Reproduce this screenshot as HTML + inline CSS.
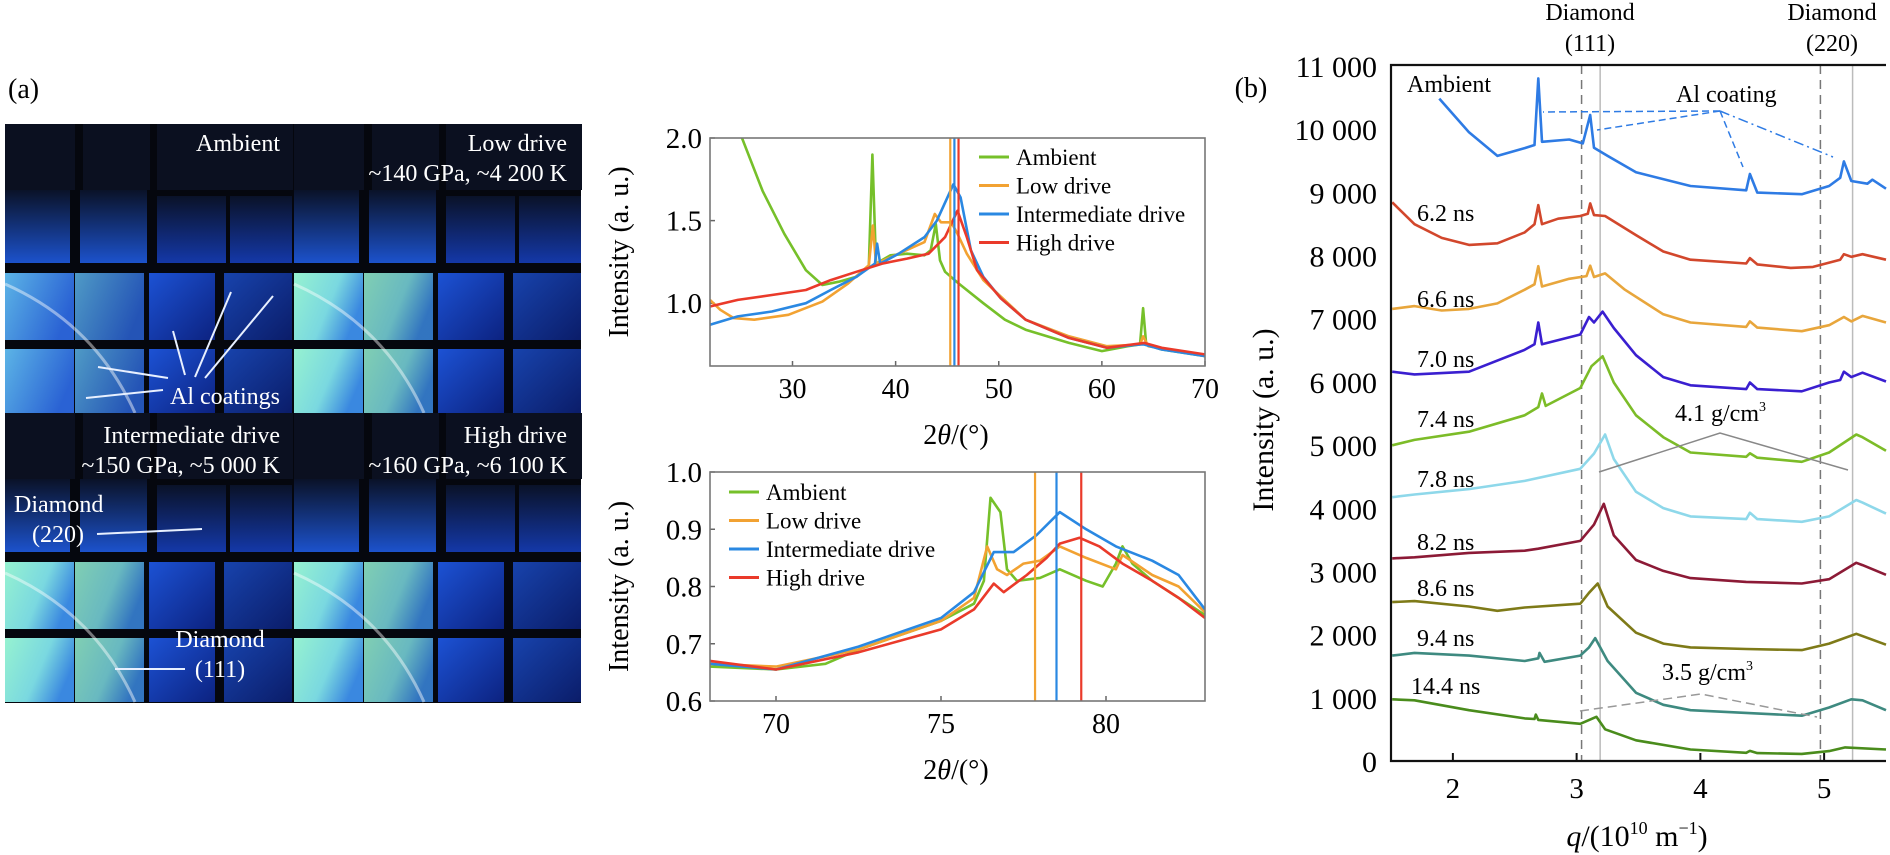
<!DOCTYPE html>
<html><head><meta charset="utf-8"><style>
html,body{margin:0;padding:0;background:#fff;}
svg{display:block;font-family:"Liberation Serif",serif;}
</style></head><body>
<svg id="fig" width="1890" height="855" viewBox="0 0 1890 855" xmlns="http://www.w3.org/2000/svg">
<defs>
<linearGradient id="gDarkTop" x1="0" y1="0" x2="0" y2="1"><stop offset="0" stop-color="#0a1228"/><stop offset="1" stop-color="#1c52cc"/></linearGradient>
<linearGradient id="gDarkTop2" x1="0" y1="0" x2="0" y2="1"><stop offset="0" stop-color="#0a1228"/><stop offset="1" stop-color="#1438a8"/></linearGradient>
<linearGradient id="gLightA" x1="0" y1="0" x2="1" y2="0.4"><stop offset="0" stop-color="#5cb4e6"/><stop offset="1" stop-color="#2a62d4"/></linearGradient>
<linearGradient id="gMint" x1="0" y1="0" x2="1" y2="0.4"><stop offset="0" stop-color="#96f2d0"/><stop offset="0.6" stop-color="#7ad8e0"/><stop offset="1" stop-color="#3a88e0"/></linearGradient>
<linearGradient id="gBlue" x1="0" y1="0" x2="1" y2="1"><stop offset="0" stop-color="#1c52d4"/><stop offset="1" stop-color="#0c2280"/></linearGradient>
</defs>
<g id="panelA"></g>
<g id="chartTop"></g>
<g id="chartBot"></g>
<g id="chartB"></g>
</svg>
<script>
// ---------- data: middle top chart (2theta, intensity) ----------
const topAmbient = [[25.1,2.0],[27.1,1.68],[29.2,1.42],[31.3,1.2],[32.9,1.11],[34.5,1.13],[36.2,1.16],[37.4,1.22],[37.75,1.9],[38.1,1.24],[39.5,1.29],[41.1,1.3],[42.8,1.29],[43.4,1.32],[43.9,1.48],[44.3,1.26],[44.8,1.19],[46.1,1.12],[48.5,1.0],[50.6,0.9],[52.6,0.84],[56.8,0.76],[60.0,0.71],[62.5,0.74],[63.7,0.75],[64.0,0.97],[64.3,0.75],[65.8,0.72],[70,0.68]];
const topLow = [[22,1.02],[23,0.96],[24.3,0.91],[26.3,0.9],[29.6,0.93],[32.9,1.01],[35.4,1.12],[37.4,1.23],[37.8,1.47],[38.1,1.24],[40.3,1.3],[42.8,1.37],[43.8,1.54],[44.4,1.49],[45.4,1.49],[46.0,1.42],[46.9,1.3],[48.5,1.14],[50.2,1.04],[52.6,0.9],[56.8,0.8],[60.5,0.74],[63.7,0.75],[64.0,0.8],[64.5,0.74],[70,0.68]];
const topInter = [[22,0.87],[24.7,0.92],[28,0.95],[31.3,1.0],[33.7,1.08],[36.2,1.16],[38.0,1.24],[38.2,1.36],[38.5,1.24],[40.3,1.3],[42.8,1.4],[44.0,1.5],[45.6,1.72],[46.3,1.64],[47.3,1.32],[48.5,1.16],[50.2,1.03],[52.6,0.9],[56.8,0.79],[60.5,0.73],[63.7,0.75],[64.1,0.75],[65.8,0.72],[70,0.68]];
const topHigh = [[22,0.98],[24.7,1.02],[28,1.05],[31.3,1.08],[33.7,1.14],[36.2,1.19],[38.7,1.24],[41.1,1.27],[43.2,1.3],[44.8,1.4],[46.0,1.56],[46.9,1.4],[47.9,1.2],[50.2,1.03],[52.6,0.9],[56.8,0.79],[60.5,0.73],[64.1,0.76],[65.8,0.73],[70,0.69]];
const topMarkers = [45.3, 45.7, 46.1];
const topXTicks = [30, 40, 50, 60, 70];
const topYTicks = [1.0, 1.5, 2.0];
// ---------- data: middle bottom chart ----------
const botAmbient = [[68,0.66],[70,0.655],[71.5,0.665],[72.5,0.69],[73.5,0.71],[75,0.74],[76,0.77],[76.3,0.81],[76.5,0.955],[76.8,0.93],[77.0,0.83],[77.3,0.81],[78,0.815],[78.6,0.83],[79.4,0.81],[79.9,0.8],[80.3,0.84],[80.5,0.87],[80.8,0.84],[81.4,0.81],[82.2,0.78],[83,0.75]];
const botLow = [[68,0.665],[70,0.66],[72.5,0.69],[75,0.74],[76,0.78],[76.4,0.87],[76.7,0.83],[77.0,0.82],[77.5,0.84],[78.0,0.845],[78.6,0.87],[79.4,0.85],[80.3,0.83],[80.5,0.855],[81.4,0.82],[82.2,0.8],[83,0.755]];
const botInter = [[68,0.665],[70,0.655],[72.5,0.695],[75,0.745],[76,0.79],[76.6,0.86],[77.2,0.86],[77.9,0.89],[78.6,0.93],[79.4,0.9],[80.3,0.87],[81.4,0.845],[82.2,0.82],[83,0.76]];
const botHigh = [[68,0.67],[70,0.655],[72.5,0.685],[75,0.725],[76,0.76],[76.6,0.805],[76.9,0.79],[77.6,0.82],[78.2,0.85],[78.6,0.875],[79.2,0.885],[79.8,0.87],[80.5,0.84],[81.4,0.81],[82.2,0.78],[83,0.745]];
const botMarkers = [77.85, 78.5, 79.25];
const botXTicks = [70, 75, 80];
const botYTicks = [0.6, 0.7, 0.8, 0.9, 1.0];
const seriesNames = ["Ambient", "Low drive", "Intermediate drive", "High drive"];
// ---------- data: right chart (q, intensity) ----------
const bAmbient = [[1.89,10484],[2.13,9950],[2.36,9577],[2.58,9700],[2.66,9749],[2.69,10804],[2.72,9800],[2.94,9836],[3.05,9775],[3.11,10225],[3.14,9706],[3.25,9577],[3.48,9317],[3.92,9101],[4.37,9032],[4.40,9291],[4.46,8997],[4.82,8971],[5.04,9101],[5.13,9231],[5.16,9490],[5.22,9180],[5.35,9137],[5.39,9200],[5.5,9058]];
const b62 = [[1.51,8842],[1.69,8496],[1.91,8280],[2.13,8168],[2.36,8194],[2.58,8367],[2.66,8496],[2.69,8799],[2.72,8496],[2.85,8583],[3.03,8626],[3.09,8660],[3.11,8825],[3.14,8640],[3.23,8626],[3.48,8323],[3.70,8064],[3.92,7934],[4.37,7874],[4.40,7960],[4.46,7860],[4.73,7805],[4.91,7820],[5.13,7934],[5.16,8021],[5.22,7980],[5.31,8021],[5.5,7934]];
const b66 = [[1.51,7156],[1.69,7200],[1.91,7130],[2.13,7156],[2.36,7243],[2.58,7459],[2.66,7545],[2.69,7831],[2.72,7510],[2.94,7632],[3.08,7675],[3.11,7839],[3.14,7660],[3.23,7718],[3.39,7459],[3.70,7070],[3.92,6940],[4.37,6871],[4.40,6958],[4.46,6860],[4.82,6802],[5.04,6897],[5.16,7027],[5.22,6958],[5.31,7044],[5.5,6940]];
const b70 = [[1.51,6162],[1.69,6119],[2.13,6162],[2.58,6508],[2.66,6595],[2.69,6940],[2.72,6595],[3.03,6750],[3.10,7027],[3.14,6940],[3.21,7113],[3.30,6854],[3.48,6422],[3.70,6076],[3.92,5946],[4.37,5886],[4.40,5990],[4.46,5886],[4.82,5851],[5.04,5990],[5.13,6030],[5.16,6162],[5.22,6076],[5.31,6145],[5.5,6007]];
const b74 = [[1.51,4996],[1.69,5082],[2.13,5212],[2.58,5471],[2.69,5601],[2.72,5817],[2.75,5620],[3.03,5903],[3.12,6249],[3.21,6405],[3.30,5990],[3.48,5471],[3.70,5125],[3.92,4883],[4.37,4814],[4.40,4870],[4.46,4800],[4.82,4736],[5.04,4883],[5.26,5168],[5.31,5125],[5.5,4909]];
const b78 = [[1.51,4175],[1.69,4218],[2.13,4304],[2.58,4434],[3.03,4624],[3.14,4866],[3.23,5168],[3.30,4780],[3.48,4261],[3.70,4002],[3.92,3872],[4.37,3829],[4.40,3930],[4.46,3829],[4.82,3786],[5.04,3872],[5.26,4131],[5.31,4090],[5.5,3915]];
const b82 = [[1.51,3207],[1.69,3224],[2.13,3293],[2.58,3328],[2.69,3360],[3.03,3483],[3.14,3742],[3.22,4071],[3.30,3570],[3.48,3181],[3.70,3008],[3.92,2895],[4.37,2835],[4.82,2809],[5.04,2878],[5.26,3137],[5.31,3100],[5.5,2947]];
const b86 = [[1.51,2515],[1.69,2530],[2.13,2446],[2.36,2377],[2.58,2429],[3.03,2489],[3.10,2662],[3.17,2809],[3.25,2446],[3.48,2031],[3.70,1858],[3.92,1798],[4.37,1772],[4.82,1755],[5.04,1858],[5.26,2014],[5.5,1841]];
const b94 = [[1.51,1668],[1.69,1711],[2.13,1668],[2.58,1582],[2.69,1625],[2.70,1711],[2.74,1570],[3.03,1668],[3.10,1798],[3.15,1945],[3.25,1582],[3.48,1080],[3.70,890],[3.92,804],[4.37,761],[4.82,717],[5.04,847],[5.22,977],[5.31,960],[5.5,804]];
const b144 = [[1.51,977],[1.69,960],[2.13,804],[2.58,674],[2.66,665],[2.67,735],[2.69,650],[3.03,588],[3.16,700],[3.23,501],[3.48,328],[3.92,182],[4.37,130],[4.40,160],[4.46,125],[4.82,112],[5.04,156],[5.17,216],[5.5,182]];
const bTimes = ["Ambient","6.2 ns","6.6 ns","7.0 ns","7.4 ns","7.8 ns","8.2 ns","8.6 ns","9.4 ns","14.4 ns"];
const bXTicks = [2, 3, 4, 5];
const bYTicks = [0,1000,2000,3000,4000,5000,6000,7000,8000,9000,10000,11000];
const bDashed = [3.04, 4.97];
const bSolid = [3.19, 5.23];

const NS = "http://www.w3.org/2000/svg";
function mk(parent, tag, attrs, text) {
  const e = document.createElementNS(NS, tag);
  for (const k in attrs) e.setAttribute(k, attrs[k]);
  if (text !== undefined) e.textContent = text;
  parent.appendChild(e);
  return e;
}
function linear(d0, d1, r0, r1) { return v => r0 + (v - d0) / (d1 - d0) * (r1 - r0); }
function pathOf(pts, sx, sy) { return pts.map((p, i) => (i ? "L" : "M") + sx(p[0]).toFixed(1) + "," + sy(p[1]).toFixed(1)).join(""); }

// ---------- Panel (a) detector images ----------
(function () {
  const g = document.getElementById("panelA");
  let t = mk(g, "text", {x: 8, y: 98, "font-size": 28}, "(a)");
  
  
  const bg = mk(g, "rect", {x: 5, y: 124, width: 576, height: 579, fill: "#05070e"});
  
  
  const quads = [[5,124,false],[294,124,true],[5,413,true],[294,413,true]];
  quads.forEach((q, qi) => {
    const ox = q[0], oy = q[1];
    const qg = mk(g, "g", {});
    
    
    [[0,0,70,66],[78,0,67,66],[152,0,136,66]].forEach(r => mk(qg, "rect", {x: ox+r[0], y: oy+r[1], width: r[2], height: r[3], fill: "#0b1020"}));
    [[0,66,65,73,"gDarkTop"],[75,66,67,73,"gDarkTop"],[152,72,69,67,"gDarkTop2"],[225,72,62,67,"gDarkTop2"]].forEach(r => mk(qg, "rect", {x: ox+r[0], y: oy+r[1], width: r[2], height: r[3], fill: "url(#"+r[4]+")"}));
    const light = q[2] ? "url(#gMint)" : "url(#gLightA)";
    [149, 225].forEach(yy => {
      mk(qg, "rect", {x: ox, y: oy+yy, width: 69, height: yy===149?67:64, fill: light});
      mk(qg, "rect", {x: ox+70, y: oy+yy, width: 69, height: yy===149?67:64, fill: light, opacity: 0.85});
      mk(qg, "rect", {x: ox+144, y: oy+yy, width: 66, height: yy===149?67:64, fill: "url(#gBlue)"});
      mk(qg, "rect", {x: ox+219, y: oy+yy, width: 68, height: yy===149?67:64, fill: "url(#gBlue)", opacity: 0.8});
    });
    mk(qg, "path", {d: "M"+(ox)+","+(oy+160)+" Q"+(ox+90)+","+(oy+200)+" "+(ox+130)+","+(oy+289), fill: "none", stroke: "#ffffff", "stroke-opacity": 0.45, "stroke-width": 3});
  });
  function lbl(x, y, s, anchor, name) {
    const e = mk(g, "text", {x: x, y: y, fill: "#fff", "font-size": 24, "text-anchor": anchor}, s);
    
    
  }
  lbl(280, 151, "Ambient", "end", "label-ambient");
  lbl(567, 151, "Low drive", "end", "label-low-drive");
  lbl(567, 181, "~140 GPa, ~4 200 K", "end", "label-low-conditions");
  lbl(280, 443, "Intermediate drive", "end", "label-intermediate-drive");
  lbl(280, 473, "~150 GPa, ~5 000 K", "end", "label-intermediate-conditions");
  lbl(567, 443, "High drive", "end", "label-high-drive");
  lbl(567, 473, "~160 GPa, ~6 100 K", "end", "label-high-conditions");
  lbl(170, 404, "Al coatings", "start", "label-al-coatings");
  lbl(14, 512, "Diamond", "start", "label-diamond-220");
  lbl(32, 542, "(220)", "start", "label-diamond-220-index");
  lbl(220, 647, "Diamond", "middle", "label-diamond-111");
  lbl(220, 677, "(111)", "middle", "label-diamond-111-index");
  [[168,378,98,367],[163,390,86,398],[185,375,173,331],[195,377,231,292],[205,378,273,296],[97,534,202,529],[115,669,185,669]].forEach(l => {
    const e = mk(g, "line", {x1: l[0], y1: l[1], x2: l[2], y2: l[3], stroke: "#e8f0ff", "stroke-width": 2});
    
    
  });
})();

// ---------- middle charts ----------
const colors4 = ["#76c02a", "#f2a232", "#2a88e2", "#ea3a2a"];
function midChart(gid, xd, yd, box, series, markers, xt, yt, ytFmt, legendPos, namePrefix) {
  const g = document.getElementById(gid);
  const sx = linear(xd[0], xd[1], box.x0, box.x1);
  const sy = linear(yd[0], yd[1], box.y1, box.y0);
  const clipId = gid + "Clip";
  const cp = mk(g, "clipPath", {id: clipId});
  mk(cp, "rect", {x: box.x0, y: box.y0, width: box.x1 - box.x0, height: box.y1 - box.y0});
  xt.forEach(v => {
    const tk = mk(g, "line", {x1: sx(v), x2: sx(v), y1: box.y1, y2: box.y1 - 5, stroke: "#666", "stroke-width": 1.5});
    
    
    const tl = mk(g, "text", {x: sx(v), y: box.y1 + 32, "font-size": 28, "text-anchor": "middle"}, String(v));
    
    
  });
  yt.forEach(v => {
    const tk = mk(g, "line", {x1: box.x0, x2: box.x0 + 5, y1: sy(v), y2: sy(v), stroke: "#666", "stroke-width": 1.5});
    
    
    const tl = mk(g, "text", {x: box.x0 - 8, y: sy(v) + 10, "font-size": 29, "text-anchor": "end"}, ytFmt(v));
    
    
  });
  const lg = mk(g, "g", {"clip-path": "url(#" + clipId + ")"});
  series.forEach((s, i) => {
    const p = mk(lg, "path", {d: pathOf(s, sx, sy), fill: "none", stroke: colors4[i], "stroke-width": 2.6, "stroke-linejoin": "round"});
    
    
  });
  markers.forEach((m, i) => {
    const l = mk(g, "line", {x1: sx(m), x2: sx(m), y1: box.y0, y2: box.y1, stroke: colors4[i + 1], "stroke-width": 2.2});
    
    
  });
  const fr = mk(g, "rect", {x: box.x0, y: box.y0, width: box.x1 - box.x0, height: box.y1 - box.y0, fill: "none", stroke: "#777", "stroke-width": 1.6});
  
  
  seriesNames.forEach((n, i) => {
    const yy = legendPos.y + i * 28.5;
    const ll = mk(g, "line", {x1: legendPos.x, x2: legendPos.x + 30, y1: yy, y2: yy, stroke: colors4[i], "stroke-width": 3});
    
    
    const lt = mk(g, "text", {x: legendPos.x + 37, y: yy + 8, "font-size": 23}, n);
    
    
  });
  const xtitle = mk(g, "text", {x: 956, y: box.y1 + 78, "font-size": 28, "text-anchor": "middle"});
  
  
  mk(xtitle, "tspan", {}, "2");
  mk(xtitle, "tspan", {"font-style": "italic"}, "θ");
  mk(xtitle, "tspan", {}, "/(°)");
  const cy = (box.y0 + box.y1) / 2;
  const yt2 = mk(g, "text", {x: 628, y: cy, "font-size": 28, "text-anchor": "middle", transform: "rotate(-90 628 " + cy + ")"}, "Intensity (a. u.)");
  
  
}
midChart("chartTop", [22, 70], [0.62, 2.0], {x0: 710, x1: 1205, y0: 138, y1: 366},
  [topAmbient, topLow, topInter, topHigh], topMarkers, topXTicks, topYTicks, v => v.toFixed(1), {x: 979, y: 157}, "top");
midChart("chartBot", [68, 83], [0.6, 1.0], {x0: 710, x1: 1205, y0: 472, y1: 701},
  [botAmbient, botLow, botInter, botHigh], botMarkers, botXTicks, botYTicks, v => v.toFixed(1), {x: 729, y: 492}, "bottom");

// ---------- right chart (b) ----------
(function () {
  const g = document.getElementById("chartB");
  const X0 = 1391, X1 = 1886, Y0 = 65, Y1 = 761;
  const sx = linear(1.5, 5.5, X0, X1);
  const sy = linear(0, 11000, Y1, 66);
  const series = [bAmbient, b62, b66, b70, b74, b78, b82, b86, b94, b144];
  const cols = ["#2e7be4", "#d2472c", "#e8a63c", "#3a1fd0", "#7cbc28", "#8ed8ea", "#8c1a36", "#7e7a18", "#3e8a80", "#4a8c1c"];
  const labelPos = [[1407,92],[1417,221],[1417,307],[1417,367],[1417,427],[1417,487],[1417,550],[1417,596],[1417,646],[1411,694]];
  bDashed.forEach(q => {
    const l = mk(g, "line", {x1: sx(q), x2: sx(q), y1: Y0, y2: Y1, stroke: "#777", "stroke-width": 1.5, "stroke-dasharray": "9,6"});
    
    
  });
  bSolid.forEach(q => {
    const l = mk(g, "line", {x1: sx(q), x2: sx(q), y1: Y0, y2: Y1, stroke: "#bbb", "stroke-width": 1.5});
    
    
  });
  const cp = mk(g, "clipPath", {id: "bClip"});
  mk(cp, "rect", {x: X0, y: Y0, width: X1 - X0 + 4, height: Y1 - Y0});
  const lg = mk(g, "g", {"clip-path": "url(#bClip)"});
  series.forEach((s, i) => {
    const p = mk(lg, "path", {d: pathOf(s, sx, sy), fill: "none", stroke: cols[i], "stroke-width": 2.6, "stroke-linejoin": "round"});
    
    
    const t = mk(g, "text", {x: labelPos[i][0], y: labelPos[i][1], "font-size": 24}, bTimes[i]);
    
    
  });
  // axes
  const ax = mk(g, "path", {d: "M" + X1 + "," + Y0 + "L" + X0 + "," + Y0 + "L" + X0 + "," + Y1 + "L" + X1 + "," + Y1, fill: "none", stroke: "#111", "stroke-width": 2.2});
  
  
  bXTicks.forEach(v => {
    const tk = mk(g, "line", {x1: sx(v), x2: sx(v), y1: Y1, y2: Y1 - 8, stroke: "#111", "stroke-width": 2});
    
    
    const tl = mk(g, "text", {x: sx(v), y: Y1 + 37, "font-size": 29, "text-anchor": "middle"}, String(v));
    
    
  });
  bYTicks.forEach(v => {
    const lab = v >= 1000 ? Math.floor(v / 1000) + "\u2009" + "000" : String(v);
    const tl = mk(g, "text", {x: 1377, y: sy(v) + 11, "font-size": 30, "text-anchor": "end"}, lab.replace("\u2009", " "));
    
    
  });
  const yt = mk(g, "text", {x: 1273, y: 420, "font-size": 30, "text-anchor": "middle", transform: "rotate(-90 1273 420)"}, "Intensity (a. u.)");
  
  
  const xt = mk(g, "text", {x: 1637, y: 846, "font-size": 30, "text-anchor": "middle"});
  
  
  mk(xt, "tspan", {"font-style": "italic"}, "q");
  mk(xt, "tspan", {}, "/(10");
  mk(xt, "tspan", {dy: -12, "font-size": 18}, "10");
  mk(xt, "tspan", {dy: 12}, " m");
  mk(xt, "tspan", {dy: -12, "font-size": 18}, "−1");
  mk(xt, "tspan", {dy: 12}, ")");
  function txt(x, y, s, size, anchor, name) {
    const e = mk(g, "text", {x: x, y: y, "font-size": size, "text-anchor": anchor}, s);
    
    
    return e;
  }
  txt(1251, 97, "(b)", 28, "middle", "panel-b-label");
  txt(1590, 20, "Diamond", 24, "middle", "diamond-111-label");
  txt(1590, 51, "(111)", 24, "middle", "diamond-111-index");
  txt(1832, 20, "Diamond", 24, "middle", "diamond-220-label");
  txt(1832, 51, "(220)", 24, "middle", "diamond-220-index");
  txt(1676, 102, "Al coating", 24, "start", "al-coating-label");
  const d41 = txt(1675, 421, "4.1 g/cm", 24, "start", "density-4-1-label");
  mk(d41, "tspan", {dy: -10, "font-size": 14}, "3");
  const d35 = txt(1662, 680, "3.5 g/cm", 24, "start", "density-3-5-label");
  mk(d35, "tspan", {dy: -10, "font-size": 14}, "3");
  [[1720,111,1543,112,"7,4"],[1720,111,1597,130,"7,4"],[1720,111,1743,167,"7,4"],[1720,111,1833,157,"10,4,2,4"]].forEach(l => {
    const e = mk(g, "line", {x1: l[0], y1: l[1], x2: l[2], y2: l[3], stroke: "#2e7be4", "stroke-width": 1.5, "stroke-dasharray": l[4]});
    
    
  });
  const p41 = mk(g, "polyline", {points: "1599,472 1720,433 1848,470", fill: "none", stroke: "#888", "stroke-width": 1.5});
  
  
  const p35 = mk(g, "polyline", {points: "1580,711 1701,694 1817,717", fill: "none", stroke: "#999", "stroke-width": 1.5, "stroke-dasharray": "9,5"});
  
  
})();
</script>
</body></html>
